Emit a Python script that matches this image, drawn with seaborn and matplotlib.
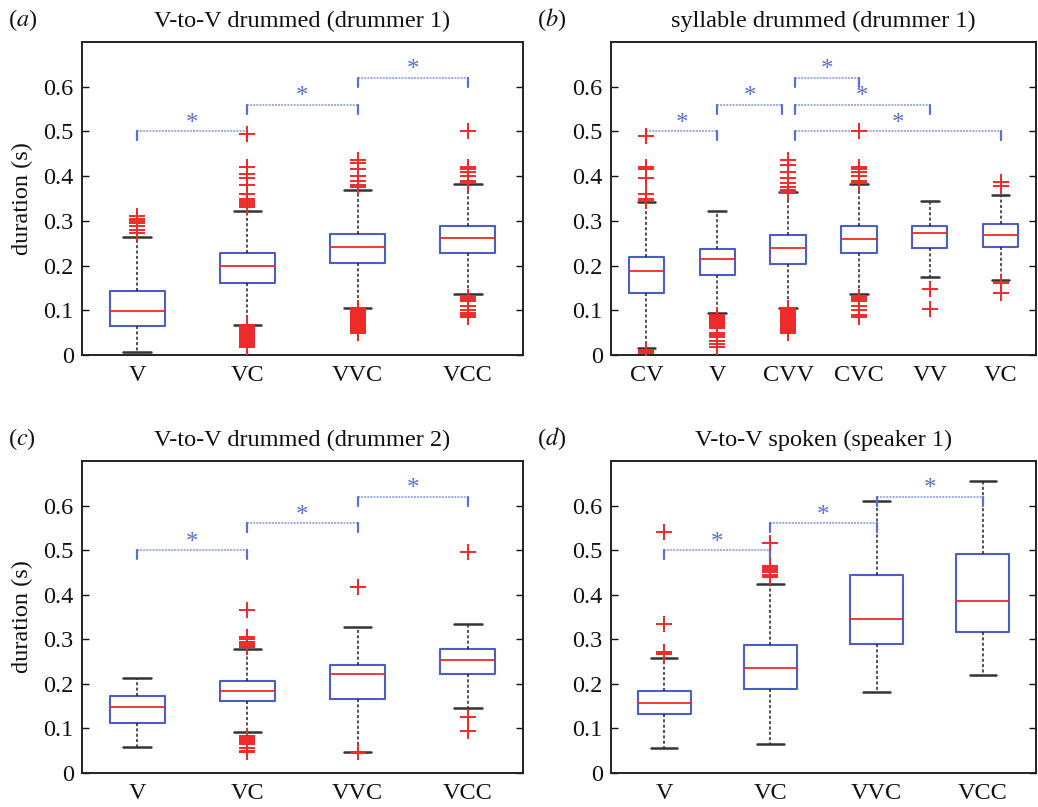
import numpy as np
import pandas as pd
import matplotlib
matplotlib.use("Agg")
import matplotlib.pyplot as plt
import seaborn as sns

# ---------------------------------------------------------------
# box statistics (seconds)
# ---------------------------------------------------------------
# (a) V-to-V drummed (drummer 1)
a_cats = ["V", "VC", "VVC", "VCC"]
a_q1 = [0.064, 0.162, 0.205, 0.228]
a_med = [0.099, 0.199, 0.241, 0.261]
a_q3 = [0.144, 0.227, 0.271, 0.289]
a_lo = [0.007, 0.068, 0.106, 0.136]
a_hi = [0.263, 0.323, 0.370, 0.382]
a_out = [
    [0.272, 0.280, 0.288, 0.295, 0.300, 0.305, 0.310],
    [0.330, 0.335, 0.340, 0.345, 0.350, 0.360, 0.380, 0.395, 0.405, 0.420, 0.495,
     0.018, 0.020, 0.022, 0.024, 0.026, 0.028, 0.030, 0.032, 0.034, 0.036,
     0.038, 0.040, 0.042, 0.044, 0.046, 0.048, 0.050, 0.052, 0.054, 0.056,
     0.058, 0.060, 0.062, 0.064, 0.066],
    [0.375, 0.380, 0.390, 0.400, 0.415, 0.430, 0.435,
     0.050, 0.052, 0.054, 0.056, 0.058, 0.060, 0.062, 0.064, 0.066, 0.068,
     0.070, 0.072, 0.074, 0.076, 0.078, 0.080, 0.082, 0.084, 0.086, 0.088,
     0.090, 0.092, 0.094, 0.096, 0.098, 0.100, 0.102, 0.104],
    [0.385, 0.390, 0.400, 0.410, 0.415, 0.420, 0.500,
     0.130, 0.125, 0.120, 0.110, 0.100, 0.095, 0.090, 0.085],
]
a_sig = [(0, 1, 0.50), (1, 2, 0.56), (2, 3, 0.62)]

# (b) syllable drummed (drummer 1)
b_cats = ["CV", "V", "CVV", "CVC", "VV", "VC"]
b_q1 = [0.138, 0.178, 0.203, 0.227, 0.239, 0.242]
b_med = [0.188, 0.214, 0.239, 0.259, 0.273, 0.269]
b_q3 = [0.219, 0.237, 0.268, 0.289, 0.289, 0.293]
b_lo = [0.015, 0.094, 0.104, 0.136, 0.175, 0.168]
b_hi = [0.342, 0.323, 0.364, 0.382, 0.345, 0.358]
b_out = [
    [0.345, 0.350, 0.360, 0.395, 0.415, 0.420, 0.490,
     0.012, 0.010, 0.008, 0.005],
    [0.060, 0.062, 0.064, 0.066, 0.068, 0.070, 0.072, 0.074, 0.076, 0.078,
     0.080, 0.082, 0.084, 0.086, 0.088, 0.090,
     0.050, 0.045, 0.040, 0.032, 0.025, 0.018],
    [0.365, 0.370, 0.375, 0.385, 0.395, 0.410, 0.425, 0.435,
     0.050, 0.052, 0.054, 0.056, 0.058, 0.060, 0.062, 0.064, 0.066, 0.068,
     0.070, 0.072, 0.074, 0.076, 0.078, 0.080, 0.082, 0.084, 0.086, 0.088,
     0.090, 0.092, 0.094, 0.096, 0.098, 0.100, 0.102, 0.104],
    [0.385, 0.390, 0.400, 0.410, 0.415, 0.420, 0.500,
     0.130, 0.125, 0.120, 0.110, 0.100, 0.090, 0.085],
    [0.148, 0.103],
    [0.379, 0.387, 0.161, 0.138],
]
b_sig = [(0, 1, 0.50), (1, 2, 0.56), (2, 3, 0.62), (2, 4, 0.56), (2, 5, 0.50)]

# (c) V-to-V drummed (drummer 2)
c_cats = ["V", "VC", "VVC", "VCC"]
c_q1 = [0.113, 0.161, 0.165, 0.223]
c_med = [0.148, 0.185, 0.222, 0.254]
c_q3 = [0.172, 0.207, 0.243, 0.278]
c_lo = [0.058, 0.091, 0.048, 0.146]
c_hi = [0.214, 0.278, 0.327, 0.335]
c_out = [
    [],
    [0.282, 0.286, 0.290, 0.295, 0.300, 0.305, 0.365,
     0.066, 0.068, 0.070, 0.072, 0.074, 0.076, 0.078, 0.080, 0.082, 0.084,
     0.055, 0.050, 0.046],
    [0.418, 0.046],
    [0.495, 0.126, 0.095],
]
c_sig = [(0, 1, 0.50), (1, 2, 0.56), (2, 3, 0.62)]

# (d) V-to-V spoken (speaker 1)
d_cats = ["V", "VC", "VVC", "VCC"]
d_q1 = [0.133, 0.188, 0.289, 0.317]
d_med = [0.156, 0.236, 0.345, 0.387]
d_q3 = [0.185, 0.287, 0.445, 0.492]
d_lo = [0.057, 0.066, 0.182, 0.220]
d_hi = [0.258, 0.424, 0.611, 0.656]
d_out = [
    [0.268, 0.272, 0.334, 0.540],
    [0.440, 0.445, 0.450, 0.455, 0.460, 0.465, 0.517],
    [],
    [],
]
d_sig = [(0, 1, 0.50), (1, 2, 0.56), (2, 3, 0.62)]

yticks = [0, 0.1, 0.2, 0.3, 0.4, 0.5, 0.6]
ytick_labels = ["0", "0.1", "0.2", "0.3", "0.4", "0.5", "0.6"]

# ---------------------------------------------------------------
sns.set_theme(style="white")
plt.rcParams["font.family"] = ["Liberation Serif", "DejaVu Serif"]
plt.rcParams["mathtext.fontset"] = "stix"

BLUE = "#4a5ec4"
RED = "#ee2a2a"
SIG = "#5a70cc"
FS = 17.5

W, H = 1038, 807
fig = plt.figure(figsize=(W / 100, H / 100), dpi=100)


def make_axes(x0, x1, y0, y1):
    return fig.add_axes([x0 / W, 1 - y1 / H, (x1 - x0) / W, (y1 - y0) / H])


def panel(ax, cats, q1, med, q3, lo, hi, outs, sig, title, letter, ylabel):
    stats = []
    for i, c in enumerate(cats):
        stats.append(dict(label=c, q1=q1[i], med=med[i], q3=q3[i],
                          whislo=lo[i], whishi=hi[i], fliers=[]))
    pos = np.arange(1, len(cats) + 1)
    ax.bxp(stats, positions=pos, widths=0.5, showfliers=False,
           boxprops=dict(color=BLUE, linewidth=1.5),
           medianprops=dict(color=RED, linewidth=1.3),
           whiskerprops=dict(color="#222222", linewidth=1.1, linestyle=(0, (2, 1.5))),
           capprops=dict(color="#333333", linewidth=1.8),
           capwidths=0.25)

    # outliers
    rows = [(pos[i], v) for i, vals in enumerate(outs) for v in vals]
    if rows:
        df = pd.DataFrame(rows, columns=["x", "y"])
        sns.scatterplot(data=df, x="x", y="y", marker="+", color=RED,
                        s=130, linewidth=1.4, ax=ax, zorder=3, legend=False)

    # significance brackets
    for i, j, h in sig:
        xi, xj = pos[i], pos[j]
        if len(cats) > 4:
            if i == 2:
                xi += 0.1
            if j == 2:
                xj -= 0.08
        ax.plot([xi, xj], [h, h], color="#9aaae6", linewidth=1.4,
                linestyle=(0, (1, 0.6)), zorder=2)
        for xe in (xi, xj):
            ax.plot([xe, xe], [h, h - 0.02], color=SIG, linewidth=1.6, zorder=2)
        ax.text((xi + xj) / 2, h + 0.017, "*", color=SIG, fontsize=18,
                ha="center", va="center")

    ax.set_xlim(0.5, len(cats) + 0.5)
    ax.set_ylim(0, 0.7)
    ax.set_xticks(pos)
    ax.set_xticklabels(cats)
    ax.set_yticks(yticks)
    ax.set_yticklabels(ytick_labels)
    ax.set_xlabel("")
    ax.set_ylabel("")
    ax.tick_params(axis="y", direction="in", length=5, width=1, right=True,
                   left=True, labelsize=FS, pad=6, colors="#111111")
    ax.tick_params(axis="x", length=0, labelsize=FS, pad=7, colors="#111111")
    for sp in ax.spines.values():
        sp.set_visible(True)
        sp.set_color("#222222")
        sp.set_linewidth(1.4)
    ax.set_title(title, fontsize=FS, pad=11, color="#111111")
    if ylabel:
        ax.set_ylabel("duration (s)", fontsize=FS, color="#111111")
        ax.yaxis.set_label_coords(-0.11, 0.5)
    bb = ax.get_position()
    fig.text(bb.x0 - 74 / W, bb.y1 + 22 / H, "(" + r"$\mathit{" + letter + "}$" + ")",
             fontsize=FS, ha="left", va="center", color="#111111")


ax_a = make_axes(82, 523, 42, 355)
ax_b = make_axes(611, 1036, 42, 355)
ax_c = make_axes(82, 523, 461, 773)
ax_d = make_axes(611, 1036, 461, 773)

panel(ax_a, a_cats, a_q1, a_med, a_q3, a_lo, a_hi, a_out, a_sig,
      "V-to-V drummed (drummer 1)", "a", True)
panel(ax_b, b_cats, b_q1, b_med, b_q3, b_lo, b_hi, b_out, b_sig,
      "syllable drummed (drummer 1)", "b", False)
panel(ax_c, c_cats, c_q1, c_med, c_q3, c_lo, c_hi, c_out, c_sig,
      "V-to-V drummed (drummer 2)", "c", True)
panel(ax_d, d_cats, d_q1, d_med, d_q3, d_lo, d_hi, d_out, d_sig,
      "V-to-V spoken (speaker 1)", "d", False)

fig.savefig("out.png", dpi=100, facecolor="white")
